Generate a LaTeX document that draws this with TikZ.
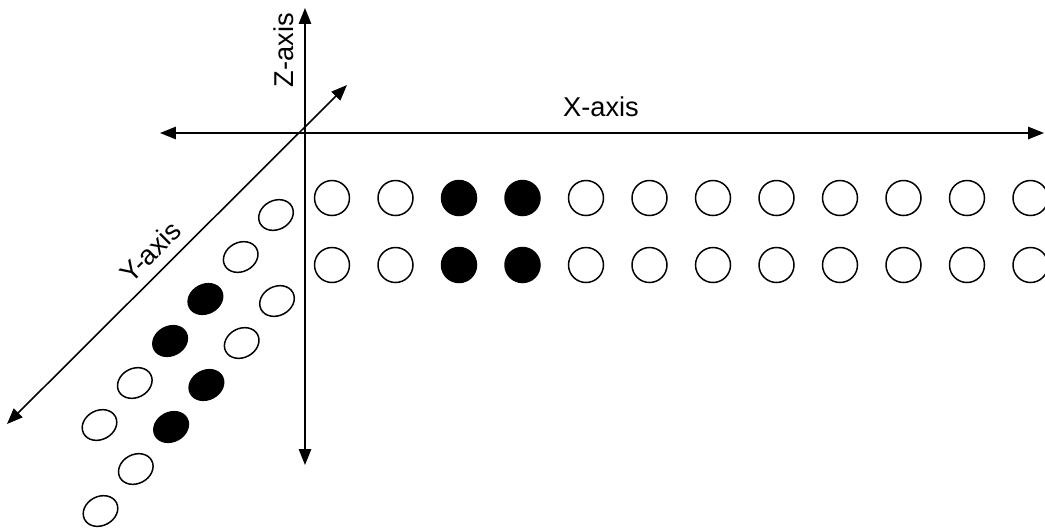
\documentclass[tikz,border=0pt]{standalone}
\usepackage{fontspec}
\setmainfont{Liberation Sans}
\usetikzlibrary{arrows.meta,shapes.geometric}
\begin{document}
\begin{tikzpicture}[x=0.02cm,y=-0.02cm,
  axis/.style={line width=0.9pt,{Triangle[length=9pt,width=7pt]}-{Triangle[length=9pt,width=7pt]}},
  lbl/.style={font=\fontsize{15.5pt}{18pt}\selectfont,inner sep=0pt},
  dotempty/.style={circle,draw,line width=0.85pt,minimum size=0.70cm,inner sep=0pt},
  dotfull/.style={dotempty,fill=black},
  ellempty/.style={ellipse,draw,line width=0.85pt,minimum width=0.72cm,minimum height=0.58cm,inner sep=0pt,rotate=28},
  ellfull/.style={ellempty,fill=black}]
\useasboundingbox (0,0) rectangle (1045,529);
% axes
\coordinate (zt) at (305,8);
\coordinate (zb) at (305,465);
\coordinate (xl) at (160,133);
\coordinate (xr) at (1044,133);
\coordinate (yt) at (347,85);
\coordinate (yb) at (7,424);
\draw[axis] (zb) -- (zt);
\draw[axis] (xl) -- (xr);
\draw[axis] (yb) -- (yt);
\node[lbl,rotate=90] (zlab) at (284,50) {Z-axis};
\node[lbl] (xlab) at (601,107) {X-axis};
\node[lbl,rotate=45] (ylab) at (150,252) {Y-axis};
% X rows
\foreach \i in {0,...,11}{
  \pgfmathsetmacro{\xx}{332+63.5*\i}
  \ifnum\i=2 \def\st{dotfull}\else\ifnum\i=3 \def\st{dotfull}\else\def\st{dotempty}\fi\fi
  \node[\st] (a\i) at (\xx,198) {};
  \node[\st] (b\i) at (\xx,265) {};
}
% Y rows
\foreach \i in {0,...,5}{
  \pgfmathsetmacro{\xx}{276-35.3*\i}
  \pgfmathsetmacro{\yy}{215+42*\i}
  \pgfmathsetmacro{\yb}{301+42*\i}
  \ifnum\i=2 \def\st{ellfull}\else\ifnum\i=3 \def\st{ellfull}\else\def\st{ellempty}\fi\fi
  \node[\st] (c\i) at (\xx,\yy) {};
  \node[\st] (d\i) at (\xx+1,\yb) {};
}
\end{tikzpicture}
\end{document}
